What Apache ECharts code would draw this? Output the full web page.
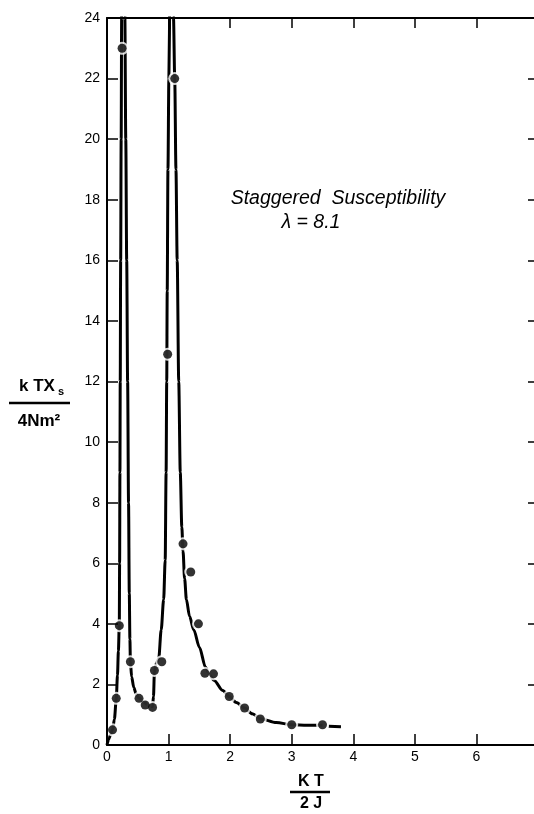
<!DOCTYPE html>
<html><head><meta charset="utf-8">
<script src="https://cdn.jsdelivr.net/npm/echarts@6/dist/echarts.min.js"></script>
<style>html,body{margin:0;padding:0;background:#fff}#c{width:534px;height:814px}</style>
</head><body><div id="c"></div>
<script>
// measured points (kT/2J , kTχs/4Nm²)
const pointX = [0.09,0.15,0.2,0.245,0.38,0.52,0.62,0.74,0.77,0.89,0.985,1.1,1.235,1.36,1.485,1.59,1.73,1.985,2.235,2.49,3.0,3.5];
const pointY = [0.5,1.54,3.94,23.0,2.75,1.54,1.32,1.24,2.46,2.75,12.9,22.0,6.64,5.71,4.0,2.37,2.35,1.6,1.22,0.86,0.67,0.67];

// drawn curve, branch by branch
const curveLeft = [[0,0],[0.03,0.2],[0.06,0.35],[0.09,0.5],[0.12,0.85],[0.15,1.5],[0.17,2.3],[0.185,3.1],[0.2,4.0],[0.205,6],[0.21,9],[0.215,12],[0.222,16],[0.23,20],[0.238,24],[0.24,25]];
const curveMiddle = [[0.285,25],[0.29,24],[0.305,20],[0.32,16],[0.335,12],[0.35,8],[0.362,5],[0.372,3.5],[0.38,2.75],[0.4,2.25],[0.435,1.9],[0.47,1.7],[0.52,1.55],[0.6,1.4],[0.68,1.3],[0.74,1.27],[0.755,1.6],[0.77,2.4],[0.8,2.7],[0.84,2.85],[0.88,3.8],[0.92,4.8],[0.945,6.1],[0.96,9],[0.97,12],[0.978,15],[0.99,19],[1.005,22],[1.02,25]];
const curveRight = [[1.075,25],[1.08,24],[1.1,22],[1.12,19],[1.14,16],[1.165,12],[1.19,9],[1.215,7.2],[1.235,6.4],[1.26,5.5],[1.29,4.8],[1.34,4.25],[1.41,3.8],[1.5,3.23],[1.6,2.57],[1.67,2.3],[1.74,2.13],[1.88,1.8],[1.985,1.6],[2.1,1.4],[2.235,1.22],[2.36,1.03],[2.49,0.87],[2.75,0.74],[3.0,0.67],[3.25,0.655],[3.5,0.65]];
const curveTail = [[3.6,0.62],[3.8,0.6]];

const xTickLabels = ['0','1','2','3','4','5','6'];
const yTickLabels = ['0','2','4','6','8','10','12','14','16','18','20','22','24'];

const chart = echarts.init(document.getElementById('c'), null, {renderer:'canvas'});
const FONT = 'Liberation Sans';
const lineSeries = (data) => ({
  type:'line', data, showSymbol:false, smooth:0.3, smoothMonotone:'x', clip:true, silent:true,
  lineStyle:{color:'#000', width:3}, z:2, animation:false
});
const axisLineStyle = {show:true, onZero:false, lineStyle:{color:'#000', width:2}};
chart.setOption({
  animation:false,
  backgroundColor:'#fff',
  grid:{left:107, width:431, top:18, bottom:69, containLabel:false, outerBoundsMode:'none'},
  xAxis:[
    {type:'value', position:'bottom', min:0, max:7, interval:1, z:10,
     axisLine:axisLineStyle,
     axisTick:{show:true, inside:true, length:11, lineStyle:{color:'#000', width:1.5}},
     axisLabel:{color:'#000', fontFamily:FONT, fontSize:14, margin:5,
       formatter:(v)=> xTickLabels[Math.round(v)] !== undefined ? xTickLabels[Math.round(v)] : ''},
     splitLine:{show:false}},
    {type:'value', position:'top', min:0, max:7, interval:1, z:10,
     axisLine:axisLineStyle,
     axisTick:{show:true, inside:true, length:10, lineStyle:{color:'#000', width:1.5}},
     axisLabel:{show:false}, splitLine:{show:false}}
  ],
  yAxis:[
    {type:'value', position:'left', min:0, max:24, interval:2, z:10,
     axisLine:axisLineStyle,
     axisTick:{show:true, inside:true, length:11, lineStyle:{color:'#000', width:1.5}},
     axisLabel:{color:'#000', fontFamily:FONT, fontSize:14, margin:7,
       formatter:(v)=> yTickLabels[Math.round(v/2)] !== undefined ? yTickLabels[Math.round(v/2)] : ''},
     splitLine:{show:false}},
    {type:'value', position:'right', min:0, max:24, interval:2, z:10,
     axisLine:axisLineStyle,
     axisTick:{show:true, inside:true, length:10, lineStyle:{color:'#000', width:1.5}},
     axisLabel:{show:false}, splitLine:{show:false}}
  ],
  series:[
    lineSeries(curveLeft),
    lineSeries(curveMiddle),
    lineSeries(curveRight),
    lineSeries(curveTail),
    {type:'scatter', data:pointX.map((x,i)=>[x,pointY[i]]), symbol:'circle', symbolSize:13,
     itemStyle:{color:'#fff'}, z:3, silent:true},
    {type:'scatter', data:pointX.map((x,i)=>[x,pointY[i]]), symbol:'circle', symbolSize:9,
     itemStyle:{color:'#000'}, z:4, silent:true}
  ],
  graphic:[
    {type:'text', x:338, y:199, style:{text:'Staggered  Susceptibility', fontFamily:FONT, fontStyle:'italic', fontSize:19.5, fill:'#000', align:'center', verticalAlign:'middle', textAlign:'center', textVerticalAlign:'middle'}},
    {type:'text', x:311, y:223, style:{text:'λ = 8.1', fontFamily:FONT, fontStyle:'italic', fontSize:19.5, fill:'#000', align:'center', verticalAlign:'middle', textAlign:'center', textVerticalAlign:'middle'}},
    {type:'text', x:37, y:386, style:{text:'k TX', fontFamily:FONT, fontWeight:'bold', fontSize:17, fill:'#000', align:'center', verticalAlign:'middle', textAlign:'center', textVerticalAlign:'middle'}},
    {type:'text', x:61, y:392, style:{text:'s', fontFamily:FONT, fontWeight:'bold', fontSize:11, fill:'#000', align:'center', verticalAlign:'middle', textAlign:'center', textVerticalAlign:'middle'}},
    {type:'line', shape:{x1:9, y1:403, x2:70, y2:403}, style:{stroke:'#000', lineWidth:2.5}},
    {type:'text', x:39, y:421, style:{text:'4Nm²', fontFamily:FONT, fontWeight:'bold', fontSize:17, fill:'#000', align:'center', verticalAlign:'middle', textAlign:'center', textVerticalAlign:'middle'}},
    {type:'text', x:311, y:782, style:{text:'K T', fontFamily:FONT, fontWeight:'bold', fontSize:16, fill:'#000', align:'center', verticalAlign:'middle', textAlign:'center', textVerticalAlign:'middle'}},
    {type:'line', shape:{x1:290, y1:792, x2:330, y2:792}, style:{stroke:'#000', lineWidth:2.5}},
    {type:'text', x:311, y:804, style:{text:'2 J', fontFamily:FONT, fontWeight:'bold', fontSize:16, fill:'#000', align:'center', verticalAlign:'middle', textAlign:'center', textVerticalAlign:'middle'}}
  ]
});
</script></body></html>
